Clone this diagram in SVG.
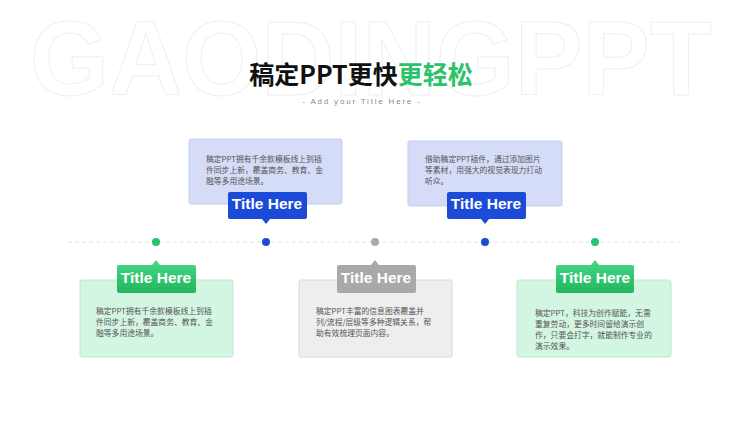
<svg xmlns="http://www.w3.org/2000/svg" width="750" height="422" viewBox="0 0 750 422">
<defs>
<style>
.bg{font-family:"Liberation Sans",Arial,sans-serif;font-weight:bold;font-size:106px;fill:#fff;stroke:#efefef;stroke-width:1}
.title{font-family:"Noto Sans CJK SC",sans-serif;font-weight:bold;font-size:25px}
.sub{font-family:"Liberation Sans",Arial,sans-serif;font-size:8px;fill:#8a8a8a;letter-spacing:1.8px}
.body{font-family:"Noto Sans CJK SC",sans-serif;font-size:7.8px;fill:#555}
.tag{font-family:"Liberation Sans",Arial,sans-serif;font-weight:bold;font-size:15.5px;fill:#fff;text-anchor:middle}
.bluebox{fill:#d5dcf7;stroke:#c4cdf0;stroke-width:1}
.greenbox{fill:#d3f6e2;stroke:#bce8cd;stroke-width:1}
.graybox{fill:#eeeeee;stroke:#d8d8d8;stroke-width:1}
.bluetag{fill:#1b4bd7}
.greentag{fill:url(#gg)}
.graytag{fill:#a9a9a9}
</style>
<linearGradient id="gg" x1="0" y1="0" x2="0" y2="1">
<stop offset="0" stop-color="#45d886"/>
<stop offset="1" stop-color="#22b660"/>
</linearGradient>
</defs>
<rect width="750" height="422" fill="#fff"/>
<text class="bg" x="30" y="95" textLength="682" lengthAdjust="spacingAndGlyphs">GAODINGPPT</text>
<text class="title" x="361" y="84" text-anchor="middle"><tspan fill="#111">稿定PPT更快</tspan><tspan fill="#2cc26a">更轻松</tspan></text>
<text class="sub" x="362" y="104" text-anchor="middle">- Add your Title Here -</text>

<g id="connectors">
<line x1="68" y1="242" x2="680" y2="242" stroke="#e0e0e0" stroke-width="1" stroke-dasharray="4 3"/>
</g>

<g id="dot1"><circle cx="156" cy="242" r="4" fill="#27c468"/></g>
<g id="dot2"><circle cx="266" cy="242" r="4" fill="#1d4ad0"/></g>
<g id="dot3"><circle cx="375" cy="242" r="4" fill="#aaaaaa"/></g>
<g id="dot4"><circle cx="485" cy="242" r="4" fill="#1d4ad0"/></g>
<g id="dot5"><circle cx="595" cy="242" r="4" fill="#27c468"/></g>

<g id="card2">
<rect class="bluebox" x="189" y="139" width="153" height="65" rx="2"/>
<text class="body"><tspan x="206" y="162">稿定PPT拥有千余款模板线上到插</tspan><tspan x="206" y="173">件同步上新，覆盖商务、教育、金</tspan><tspan x="206" y="184">融等多用途场景。</tspan></text>
<path class="bluetag" d="M230,192 H305 a2,2 0 0 1 2,2 V217 a2,2 0 0 1 -2,2 H270 L266,224 L262,219 H230 a2,2 0 0 1 -2,-2 V194 a2,2 0 0 1 2,-2 Z"/>
<text class="tag" x="267" y="209">Title Here</text>
</g>

<g id="card4">
<rect class="bluebox" x="408" y="141" width="154" height="65" rx="2"/>
<text class="body"><tspan x="425" y="162">借助稿定PPT插件，通过添加图片</tspan><tspan x="425" y="173">等素材，用强大的视觉表现力打动</tspan><tspan x="425" y="184">听众。</tspan></text>
<path class="bluetag" d="M449,192 H524 a2,2 0 0 1 2,2 V217 a2,2 0 0 1 -2,2 H489 L485,224 L481,219 H449 a2,2 0 0 1 -2,-2 V194 a2,2 0 0 1 2,-2 Z"/>
<text class="tag" x="486" y="209">Title Here</text>
</g>

<g id="card1">
<rect class="greenbox" x="80" y="280" width="153" height="77" rx="2"/>
<text class="body"><tspan x="96" y="314">稿定PPT拥有千余款模板线上到插</tspan><tspan x="96" y="325">件同步上新，覆盖商务、教育、金</tspan><tspan x="96" y="336">融等多用途场景。</tspan></text>
<path class="greentag" d="M119,265 H152 L156,260 L160,265 H194 a2,2 0 0 1 2,2 V291 a2,2 0 0 1 -2,2 H119 a2,2 0 0 1 -2,-2 V267 a2,2 0 0 1 2,-2 Z"/>
<text class="tag" x="156" y="283">Title Here</text>
</g>

<g id="card3">
<rect class="graybox" x="299" y="280" width="153" height="77" rx="2"/>
<text class="body"><tspan x="316" y="314">稿定PPT丰富的信息图表覆盖并</tspan><tspan x="316" y="325">列/流程/层级等多种逻辑关系，帮</tspan><tspan x="316" y="336">助有效梳理页面内容。</tspan></text>
<path class="graytag" d="M339,265 H371 L375,260 L379,265 H414 a2,2 0 0 1 2,2 V291 a2,2 0 0 1 -2,2 H339 a2,2 0 0 1 -2,-2 V267 a2,2 0 0 1 2,-2 Z"/>
<text class="tag" x="376" y="283">Title Here</text>
</g>

<g id="card5">
<rect class="greenbox" x="517" y="280" width="154" height="77" rx="2"/>
<text class="body"><tspan x="535" y="316">稿定PPT，科技为创作赋能，无需</tspan><tspan x="535" y="327">重复劳动，更多时间留给演示创</tspan><tspan x="535" y="338">作，只要会打字，就能制作专业的</tspan><tspan x="535" y="349">演示效果。</tspan></text>
<path class="greentag" d="M558,265 H591 L595,260 L599,265 H632 a2,2 0 0 1 2,2 V291 a2,2 0 0 1 -2,2 H558 a2,2 0 0 1 -2,-2 V267 a2,2 0 0 1 2,-2 Z"/>
<text class="tag" x="595" y="283">Title Here</text>
</g>
</svg>
